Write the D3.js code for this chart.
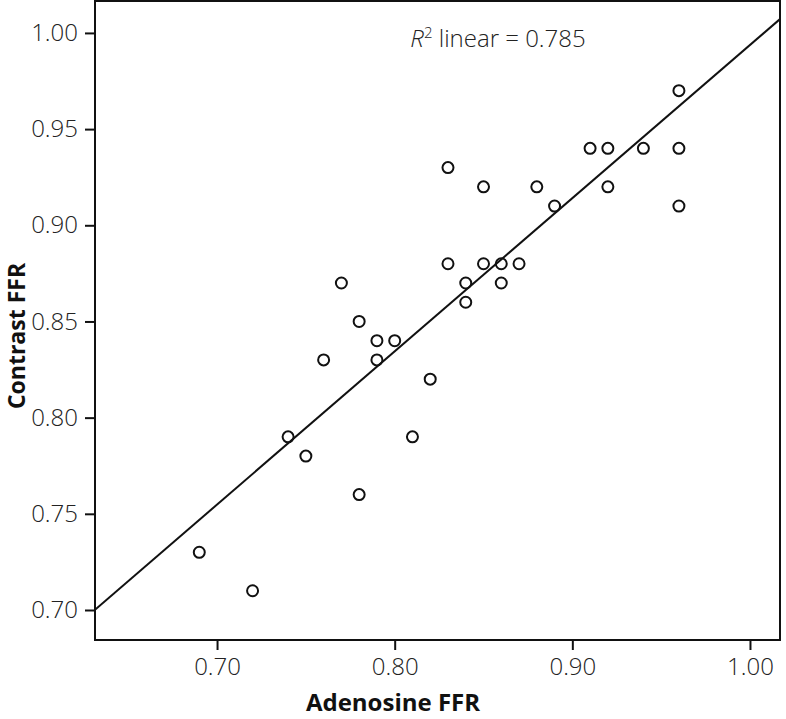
<!DOCTYPE html>
<html>
<head>
<meta charset="utf-8">
<script src="https://cdn.jsdelivr.net/npm/d3@7"></script>
<style>
  html, body { margin: 0; padding: 0; background: #fff; }
  svg { display: block; }
</style>
</head>
<body>
<svg id="chart" width="786" height="719"></svg>
<script>
// Data
const adenosineFFR = [0.69, 0.72, 0.74, 0.75, 0.76, 0.77, 0.78, 0.78, 0.79, 0.79, 0.80, 0.81, 0.82, 0.83, 0.83, 0.84, 0.84, 0.85, 0.85, 0.86, 0.86, 0.87, 0.88, 0.89, 0.91, 0.92, 0.92, 0.94, 0.96, 0.96, 0.96];
const contrastFFR  = [0.73, 0.71, 0.79, 0.78, 0.83, 0.87, 0.85, 0.76, 0.84, 0.83, 0.84, 0.79, 0.82, 0.93, 0.88, 0.87, 0.86, 0.92, 0.88, 0.88, 0.87, 0.88, 0.92, 0.91, 0.94, 0.94, 0.92, 0.94, 0.97, 0.94, 0.91];
const xTicks = [0.70, 0.80, 0.90, 1.00];
const yTicks = [0.70, 0.75, 0.80, 0.85, 0.90, 0.95, 1.00];
const xDomain = [0.6313, 1.0169];
const yDomain = [0.6844, 1.0166];
const xTitle = "Adenosine FFR";
const yTitle = "Contrast FFR";
const r2Value = "0.785";

const svg = d3.select("#chart");
const plot = { left: 95, right: 780, top: 1, bottom: 640 };

const x = d3.scaleLinear().domain(xDomain).range([plot.left, plot.right]);
const y = d3.scaleLinear().domain(yDomain).range([plot.bottom, plot.top]);

const tickFont = "'Open Sans', 'Noto Sans', sans-serif";

// Axes
const xAxis = d3.axisBottom(x).tickValues(xTicks).tickFormat(d3.format(".2f")).tickSize(10).tickSizeOuter(0).tickPadding(8);
const yAxis = d3.axisLeft(y).tickValues(yTicks).tickFormat(d3.format(".2f")).tickSize(10).tickSizeOuter(0).tickPadding(7);

const gx = svg.append("g").attr("transform", `translate(0,${plot.bottom})`).call(xAxis);
const gy = svg.append("g").attr("transform", `translate(${plot.left},0)`).call(yAxis);
[gx, gy].forEach(g => {
  g.select(".domain").remove();
  g.selectAll(".tick line").attr("stroke", "#111").attr("stroke-width", 2);
  g.selectAll(".tick text")
    .attr("fill", "#222")
    .style("font-family", tickFont)
    .style("font-size", "24px")
    .style("font-weight", "300");
});

// Regression line (least squares from the data)
const n = adenosineFFR.length;
const mx = d3.mean(adenosineFFR), my = d3.mean(contrastFFR);
let sxy = 0, sxx = 0;
for (let i = 0; i < n; i++) {
  sxy += (adenosineFFR[i] - mx) * (contrastFFR[i] - my);
  sxx += (adenosineFFR[i] - mx) ** 2;
}
const slope = sxy / sxx, intercept = my - slope * mx;

svg.append("defs").append("clipPath").attr("id", "clip")
  .append("rect").attr("x", plot.left).attr("y", plot.top)
  .attr("width", plot.right - plot.left).attr("height", plot.bottom - plot.top);

svg.append("line")
  .attr("clip-path", "url(#clip)")
  .attr("x1", x(xDomain[0])).attr("y1", y(intercept + slope * xDomain[0]))
  .attr("x2", x(xDomain[1])).attr("y2", y(intercept + slope * xDomain[1]))
  .attr("stroke", "#111").attr("stroke-width", 2);

// Points
svg.append("g").selectAll("circle")
  .data(adenosineFFR.map((v, i) => [v, contrastFFR[i]]))
  .join("circle")
  .attr("cx", d => x(d[0]))
  .attr("cy", d => y(d[1]))
  .attr("r", 5.5)
  .attr("fill", "none")
  .attr("stroke", "#111")
  .attr("stroke-width", 2);

// Frame
svg.append("rect")
  .attr("x", plot.left).attr("y", plot.top)
  .attr("width", plot.right - plot.left).attr("height", plot.bottom - plot.top)
  .attr("fill", "none").attr("stroke", "#111").attr("stroke-width", 2);

// R² annotation
const ann = svg.append("text")
  .attr("x", 498).attr("y", 47)
  .attr("text-anchor", "middle")
  .attr("fill", "#222")
  .style("font-family", tickFont)
  .style("font-size", "24px")
  .style("font-weight", "300");
ann.append("tspan").style("font-style", "italic").text("R");
ann.append("tspan").attr("dy", -9).style("font-size", "15px").text("2");
ann.append("tspan").attr("dy", 9).text(" linear = " + r2Value);

// Axis titles
svg.append("text")
  .attr("x", 393).attr("y", 711)
  .attr("text-anchor", "middle")
  .attr("fill", "#111")
  .style("font-family", tickFont)
  .style("font-size", "24px")
  .style("font-weight", "700")
  .text(xTitle);

svg.append("text")
  .attr("transform", `translate(25,336) rotate(-90)`)
  .attr("text-anchor", "middle")
  .attr("fill", "#111")
  .style("font-family", tickFont)
  .style("font-size", "23px")
  .style("font-weight", "700")
  .text(yTitle);
</script>
</body>
</html>
